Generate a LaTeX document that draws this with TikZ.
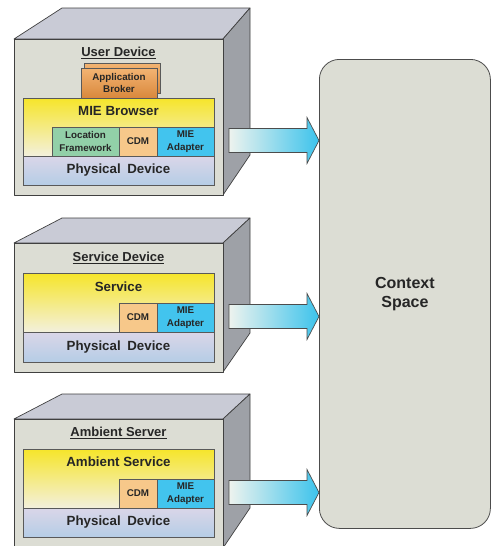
\documentclass[tikz,border=0pt]{standalone}
\usepackage{fontspec}
\setmainfont{Liberation Sans}
\begin{document}
\begin{tikzpicture}[x=1pt,y=-1pt,
  face/.style={draw=black!75, line width=0.7pt, line join=round},
  comp/.style={draw=black!65, line width=0.7pt, inner sep=0pt, outer sep=0pt, anchor=north west, align=center, text=black!85, font=\bfseries\fontsize{9.8}{12.5}\selectfont},
  big/.style={font=\bfseries\fontsize{13.3}{15}\selectfont, text=black!85},
  title/.style={font=\bfseries\fontsize{13}{15}\selectfont, text=black!85},
  yel/.style={top color=YelTop, bottom color=YelBot},
  phys/.style={top color=PhyTop, bottom color=PhyBot},
  flow/.style={draw=black!70, line width=0.7pt, left color=ArrL, right color=ArrR, line join=miter}
]
\definecolor{FrontC}{HTML}{DCDDD4}
\definecolor{TopC}{HTML}{C9CBD6}
\definecolor{SideC}{HTML}{9EA1A7}
\definecolor{YelTop}{HTML}{F6E52A}
\definecolor{YelBot}{HTML}{F3F0DC}
\definecolor{PhyTop}{HTML}{DAD6E8}
\definecolor{PhyBot}{HTML}{B5CDE6}
\definecolor{CdmC}{HTML}{F7C88A}
\definecolor{MieC}{HTML}{42C4EE}
\definecolor{LocC}{HTML}{92D0A8}
\definecolor{AbTop}{HTML}{F3B473}
\definecolor{AbBot}{HTML}{D9883C}
\definecolor{ArrL}{HTML}{EEF3EE}
\definecolor{ArrR}{HTML}{3CC3EC}
\definecolor{CtxC}{HTML}{DCDDD4}
\useasboundingbox (0,0) rectangle (492,546);

% Context space
\node[draw=black!70, line width=0.8pt, fill=CtxC, rounded corners=20pt, minimum width=171pt, minimum height=469pt, anchor=north west, inner sep=0pt,
  font=\bfseries\fontsize{16}{19}\selectfont, text=black!85, align=center] (ctx) at (319,59) {Context\\Space};

% ---------- Box 1: User Device ----------
\path[face, fill=TopC] (14,39) -- (62,8) -- (250,8) -- (223,39) -- cycle;
\path[face, fill=SideC] (223,39) -- (250,8) -- (250,155) -- (223,195) -- cycle;
\node[face, fill=FrontC, minimum width=209pt, minimum height=156pt, anchor=north west, inner sep=0pt] (ud) at (14,39) {};
\node[title] (udt) at (118.5,53) {\underline{User Device}};
\node[comp, top color=AbTop, bottom color=AbBot, minimum width=76pt, minimum height=30pt] (abb) at (84,63) {};
\node[comp, top color=AbTop, bottom color=AbBot, minimum width=76pt, minimum height=30pt, font=\bfseries\fontsize{9.8}{12}\selectfont] (ab) at (81,68) {Application\\Broker};
\node[comp, yel, minimum width=191pt, minimum height=58pt] (mb) at (23,98) {};
\node[big] (mbt) at (118.5,111) {MIE Browser};
\node[comp, fill=LocC, minimum width=67pt, minimum height=29pt] (loc1) at (52,127) {Location\\Framework};
\node[comp, fill=CdmC, minimum width=38pt, minimum height=29pt] (cdm1) at (119,127) {CDM};
\node[comp, fill=MieC, minimum width=57pt, minimum height=29pt] (mie1) at (157,127) {MIE\\Adapter};
\node[comp, phys, minimum width=191pt, minimum height=29pt, font=\bfseries\fontsize{13.3}{15}\selectfont] (pd1) at (23,156) {Physical\enspace Device};
\coordinate (a1) at (229,140.5);
\path[flow] ([shift={(0,-12)}]a1) -- ++(78,0) -- ++(0,-11) -- (ctx.west |- a1) -- ([shift={(78,23)}]a1) -- ++(0,-11) -- ([shift={(0,12)}]a1) -- cycle;

% ---------- Box 2: Service Device ----------
\path[face, fill=TopC] (14,243) -- (62,218) -- (250,218) -- (223,243) -- cycle;
\path[face, fill=SideC] (223,243) -- (250,218) -- (250,333) -- (223,372) -- cycle;
\node[face, fill=FrontC, minimum width=209pt, minimum height=129pt, anchor=north west, inner sep=0pt] (sd) at (14,243) {};
\node[title] (sdt) at (118.5,258) {\underline{Service Device}};
\node[comp, yel, minimum width=191pt, minimum height=59pt] (sv) at (23,273) {};
\node[big] (svt) at (118.5,287) {Service};
\node[comp, fill=CdmC, minimum width=38pt, minimum height=29pt] (cdm2) at (119,303) {CDM};
\node[comp, fill=MieC, minimum width=57pt, minimum height=29pt] (mie2) at (157,303) {MIE\\Adapter};
\node[comp, phys, minimum width=191pt, minimum height=30pt, font=\bfseries\fontsize{13.3}{15}\selectfont] (pd2) at (23,332) {Physical\enspace Device};
\coordinate (a2) at (229,316.5);
\path[flow] ([shift={(0,-12)}]a2) -- ++(78,0) -- ++(0,-11) -- (ctx.west |- a2) -- ([shift={(78,23)}]a2) -- ++(0,-11) -- ([shift={(0,12)}]a2) -- cycle;

% ---------- Box 3: Ambient Server ----------
\path[face, fill=TopC] (14,419) -- (62,394) -- (250,394) -- (223,419) -- cycle;
\path[face, fill=SideC] (223,419) -- (250,394) -- (250,508) -- (223,548) -- cycle;
\node[face, fill=FrontC, minimum width=209pt, minimum height=129pt, anchor=north west, inner sep=0pt] (as) at (14,419) {};
\node[title] (ast) at (118.5,433) {\underline{Ambient Server}};
\node[comp, yel, minimum width=191pt, minimum height=59pt] (asv) at (23,449) {};
\node[big] (asvt) at (118.5,462) {Ambient Service};
\node[comp, fill=CdmC, minimum width=38pt, minimum height=29pt] (cdm3) at (119,479) {CDM};
\node[comp, fill=MieC, minimum width=57pt, minimum height=29pt] (mie3) at (157,479) {MIE\\Adapter};
\node[comp, phys, minimum width=191pt, minimum height=29pt, font=\bfseries\fontsize{13.3}{15}\selectfont] (pd3) at (23,508) {Physical\enspace Device};
\coordinate (a3) at (229,492.5);
\path[flow] ([shift={(0,-12)}]a3) -- ++(78,0) -- ++(0,-11) -- (ctx.west |- a3) -- ([shift={(78,23)}]a3) -- ++(0,-11) -- ([shift={(0,12)}]a3) -- cycle;
\end{tikzpicture}
\end{document}
